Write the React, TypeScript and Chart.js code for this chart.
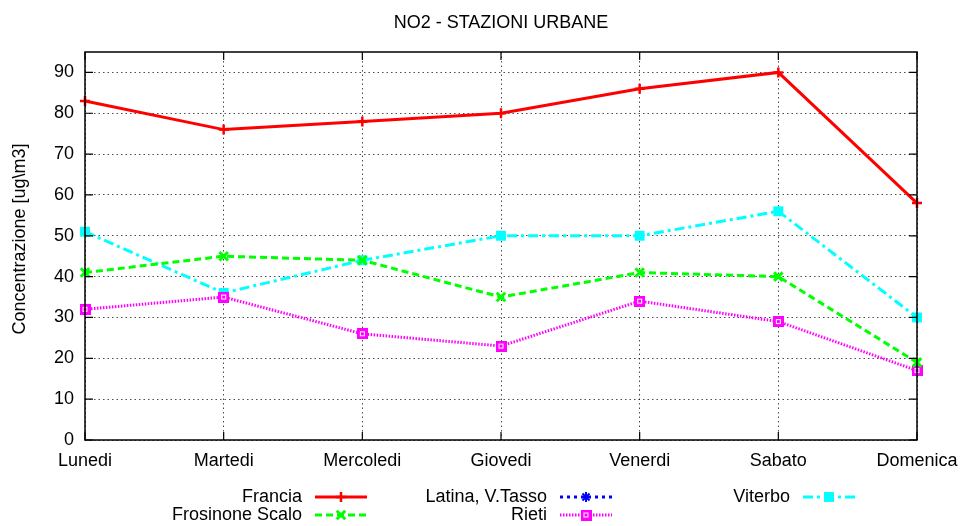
import React, { useEffect, useRef } from "react";
import { Chart, registerables } from "chart.js";

Chart.register(...registerables);

const categories = ["Lunedi", "Martedi", "Mercoledi", "Giovedi", "Venerdi", "Sabato", "Domenica"];
const francia = [83, 76, 78, 80, 86, 90, 58];
const frosinone = [41, 45, 44, 35, 41, 40, 19];
const latina: (number | null)[] = [null, null, null, null, null, null, null];
const rieti = [32, 35, 26, 23, 34, 29, 17];
const viterbo = [51, 36, 44, 50, 50, 56, 30];
const yTicks = [0, 10, 20, 30, 40, 50, 60, 70, 80, 90];

const FONT = "'Liberation Sans', Arial, Helvetica, sans-serif";
const FS = 18;

function makeRietiMarker(): HTMLCanvasElement {
  const c = document.createElement("canvas");
  c.width = 11;
  c.height = 11;
  const g = c.getContext("2d")!;
  g.fillStyle = "#ff00ff";
  g.fillRect(0, 0, 11, 11);
  g.strokeStyle = "#ffffff";
  g.lineWidth = 1;
  g.strokeRect(3.5, 3.5, 4, 4);
  return c;
}

function drawMarker(ctx: CanvasRenderingContext2D, ds: any, x: number, y: number) {
  const style = ds.pointStyle;
  const color = ds.borderColor;
  const r = ds.pointRadius;
  ctx.save();
  ctx.setLineDash([]);
  ctx.strokeStyle = color;
  ctx.fillStyle = ds.pointBackgroundColor || color;
  ctx.lineWidth = ds.pointBorderWidth || 2;
  if (style instanceof HTMLCanvasElement) {
    ctx.drawImage(style, x - style.width / 2, y - style.height / 2);
  } else if (style === "cross") {
    ctx.beginPath();
    ctx.moveTo(x - r, y);
    ctx.lineTo(x + r, y);
    ctx.moveTo(x, y - r);
    ctx.lineTo(x, y + r);
    ctx.stroke();
  } else if (style === "crossRot") {
    const d = r * Math.SQRT1_2;
    ctx.beginPath();
    ctx.moveTo(x - d, y - d);
    ctx.lineTo(x + d, y + d);
    ctx.moveTo(x + d, y - d);
    ctx.lineTo(x - d, y + d);
    ctx.stroke();
  } else if (style === "star") {
    const d = r * Math.SQRT1_2;
    ctx.lineWidth = 2;
    ctx.beginPath();
    ctx.moveTo(x - r, y);
    ctx.lineTo(x + r, y);
    ctx.moveTo(x, y - r);
    ctx.lineTo(x, y + r);
    ctx.moveTo(x - d, y - d);
    ctx.lineTo(x + d, y + d);
    ctx.moveTo(x + d, y - d);
    ctx.lineTo(x - d, y + d);
    ctx.stroke();
  } else if (style === "rect") {
    const s = r * Math.SQRT1_2;
    ctx.fillRect(x - s, y - s, 2 * s, 2 * s);
  }
  ctx.restore();
}

const gnuplotPlugin = {
  id: "gnuplotDecor",
  afterDraw(chart: any) {
    const ctx: CanvasRenderingContext2D = chart.ctx;
    const a = chart.chartArea;
    const ys = chart.scales.y;
    const xs = chart.scales.x;
    ctx.save();
    // border
    ctx.strokeStyle = "#000";
    ctx.lineWidth = 1.5;
    ctx.setLineDash([]);
    ctx.strokeRect(a.left, a.top, a.right - a.left, a.bottom - a.top);
    // inward ticks
    ctx.lineWidth = 1.2;
    ctx.beginPath();
    yTicks.forEach((v) => {
      const py = ys.getPixelForValue(v);
      ctx.moveTo(a.left, py);
      ctx.lineTo(a.left + 8, py);
      ctx.moveTo(a.right, py);
      ctx.lineTo(a.right - 8, py);
    });
    categories.forEach((_, i) => {
      const px = xs.getPixelForValue(i);
      ctx.moveTo(px, a.bottom);
      ctx.lineTo(px, a.bottom - 8);
      ctx.moveTo(px, a.top);
      ctx.lineTo(px, a.top + 8);
    });
    ctx.stroke();

    // title
    ctx.fillStyle = "#000";
    ctx.font = `${FS}px ${FONT}`;
    ctx.textAlign = "center";
    ctx.textBaseline = "middle";
    ctx.fillText("NO2 - STAZIONI URBANE", (a.left + a.right) / 2, 23);

    // y axis title
    ctx.save();
    ctx.translate(20, 239);
    ctx.rotate(-Math.PI / 2);
    ctx.fillText("Concentrazione [ug\\m3]", 0, 0);
    ctx.restore();

    // legend
    const colRight = [302, 547, 790];
    const rowY = [497, 515];
    chart.data.datasets.forEach((ds: any, i: number) => {
      const col = Math.floor(i / 2);
      const row = i % 2;
      const xr = colRight[col];
      const y = rowY[row];
      ctx.fillStyle = "#000";
      ctx.font = `${FS}px ${FONT}`;
      ctx.textAlign = "right";
      ctx.textBaseline = "middle";
      ctx.fillText(ds.label, xr, y);
      const x0 = xr + 13;
      const x1 = xr + 65;
      ctx.save();
      ctx.strokeStyle = ds.borderColor;
      ctx.lineWidth = ds.borderWidth;
      ctx.setLineDash(ds.borderDash || []);
      ctx.beginPath();
      ctx.moveTo(x0, y);
      ctx.lineTo(x1, y);
      ctx.stroke();
      ctx.restore();
      drawMarker(ctx, ds, (x0 + x1) / 2, y);
    });
    ctx.restore();
  },
};

export default function App() {
  const ref = useRef<HTMLCanvasElement>(null);
  useEffect(() => {
    document.body.style.margin = "0";
    const rietiMarker = makeRietiMarker();
    const chart = new Chart(ref.current!, {
      type: "line",
      data: {
        labels: categories,
        datasets: [
          {
            label: "Francia",
            data: francia,
            borderColor: "#ff0000",
            backgroundColor: "#ff0000",
            borderWidth: 3,
            pointStyle: "cross",
            pointRadius: 5,
            pointBorderWidth: 2.5,
            pointBackgroundColor: "#ff0000",
          },
          {
            label: "Frosinone Scalo",
            data: frosinone,
            borderColor: "#00ff00",
            backgroundColor: "#00ff00",
            borderWidth: 3,
            borderDash: [7, 4],
            pointStyle: "crossRot",
            pointRadius: 6,
            pointBorderWidth: 3,
            pointBackgroundColor: "#00ff00",
          },
          {
            label: "Latina, V.Tasso",
            data: latina,
            borderColor: "#0000ff",
            backgroundColor: "#0000ff",
            borderWidth: 3,
            borderDash: [3, 4],
            pointStyle: "star",
            pointRadius: 5,
            pointBorderWidth: 3,
            pointBackgroundColor: "#0000ff",
          },
          {
            label: "Rieti",
            data: rieti,
            borderColor: "#ff00ff",
            backgroundColor: "#ff00ff",
            borderWidth: 3,
            borderDash: [1.5, 1.5],
            pointStyle: rietiMarker,
            pointRadius: 6,
            pointBorderWidth: 1,
            pointBackgroundColor: "#ff00ff",
          },
          {
            label: "Viterbo",
            data: viterbo,
            borderColor: "#00ffff",
            backgroundColor: "#00ffff",
            borderWidth: 3,
            borderDash: [10, 4, 3, 4],
            pointStyle: "rect",
            pointRadius: 7,
            pointBorderWidth: 0,
            pointBackgroundColor: "#00ffff",
          },
        ],
      },
      options: {
        animation: false,
        responsive: false,
        devicePixelRatio: 1,
        layout: { padding: { top: 52, right: 43, left: 0, bottom: 0 } },
        plugins: {
          legend: { display: false },
          title: { display: false },
          tooltip: { enabled: false },
        },
        elements: { line: { tension: 0 } },
        scales: {
          x: {
            offset: false,
            grid: {
              color: "rgba(0,0,0,0.7)",
              lineWidth: 1,
              drawTicks: false,
            },
            border: { display: false, dash: [1.5, 3] },
            ticks: {
              padding: 10,
              color: "#000",
              font: { family: FONT, size: FS },
              maxRotation: 0,
              autoSkip: false,
            },
            afterFit: (s: any) => {
              s.height = 86;
              s.paddingLeft = 0;
              s.paddingRight = 0;
            },
          },
          y: {
            min: 0,
            max: 95,
            grid: {
              color: "rgba(0,0,0,0.7)",
              lineWidth: 1,
              drawTicks: false,
            },
            border: { display: false, dash: [1.5, 3] },
            ticks: {
              padding: 11,
              color: "#000",
              font: { family: FONT, size: FS },
            },
            afterBuildTicks: (s: any) => {
              s.ticks = yTicks.map((v) => ({ value: v }));
            },
            afterFit: (s: any) => {
              s.width = 85;
              s.paddingTop = 0;
              s.paddingBottom = 0;
            },
          },
        },
      },
      plugins: [gnuplotPlugin],
    });
    return () => chart.destroy();
  }, []);
  return (
    <div style={{ width: 960, height: 526 }}>
      <canvas ref={ref} width={960} height={526} />
    </div>
  );
}
